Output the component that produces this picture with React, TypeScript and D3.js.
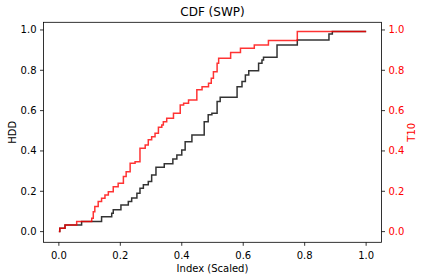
import React from "react";
import * as d3 from "d3";

const hddX = [0, 0.003, 0.02, 0.074, 0.139, 0.172, 0.177, 0.202, 0.226, 0.237, 0.254, 0.264, 0.275, 0.291, 0.302, 0.316, 0.343, 0.371, 0.384, 0.4, 0.411, 0.433, 0.473, 0.486, 0.498, 0.515, 0.525, 0.58, 0.596, 0.607, 0.618, 0.65, 0.661, 0.666, 0.71, 0.776, 0.879, 0.89, 1.0];
const hddY = [0, 0.017, 0.033, 0.05, 0.074, 0.091, 0.108, 0.132, 0.149, 0.167, 0.19, 0.215, 0.232, 0.248, 0.281, 0.319, 0.336, 0.36, 0.38, 0.405, 0.446, 0.479, 0.545, 0.579, 0.587, 0.645, 0.666, 0.719, 0.744, 0.777, 0.798, 0.835, 0.851, 0.865, 0.926, 0.95, 0.98, 0.992, 0.992];

const t10X = [0, 0.003, 0.02, 0.058, 0.107, 0.112, 0.117, 0.128, 0.139, 0.15, 0.161, 0.177, 0.193, 0.21, 0.219, 0.232, 0.248, 0.264, 0.281, 0.291, 0.302, 0.313, 0.324, 0.335, 0.34, 0.351, 0.373, 0.395, 0.406, 0.422, 0.449, 0.466, 0.487, 0.496, 0.503, 0.515, 0.52, 0.559, 0.591, 0.636, 0.682, 0.776, 1.0];
const t10Y = [0, 0.017, 0.033, 0.05, 0.066, 0.099, 0.124, 0.149, 0.166, 0.182, 0.198, 0.223, 0.24, 0.273, 0.297, 0.339, 0.347, 0.413, 0.43, 0.455, 0.471, 0.488, 0.517, 0.529, 0.545, 0.562, 0.587, 0.628, 0.637, 0.653, 0.703, 0.719, 0.736, 0.761, 0.793, 0.835, 0.86, 0.888, 0.909, 0.926, 0.948, 0.992, 0.992];

const xTicks = [0, 0.2, 0.4, 0.6, 0.8, 1.0];
const yTicks = [0, 0.2, 0.4, 0.6, 0.8, 1.0];

const title = "CDF (SWP)";
const xLabel = "Index (Scaled)";
const leftLabel = "HDD";
const rightLabel = "T10";

export default function App() {
  const L = 43.5, R = 381.5, T = 22.3, B = 242.3;
  const x = d3.scaleLinear().domain([-0.05, 1.05]).range([L, R]);
  const y = d3.scaleLinear().domain([-0.053, 1.038]).range([B, T]);
  const line = d3
    .line<[number, number]>()
    .x((d) => x(d[0]))
    .y((d) => y(d[1]))
    .curve(d3.curveStepAfter);
  const hdd = hddX.map((v, i) => [v, hddY[i]] as [number, number]);
  const t10 = t10X.map((v, i) => [v, t10Y[i]] as [number, number]);
  const font = "DejaVu Sans, sans-serif";
  const fmt = d3.format(".1f");
  return (
    <svg
      width={424}
      height={280}
      style={{ position: "absolute", left: 0, top: 0, background: "#fff" }}
      fontFamily={font}
    >
      <rect x={0} y={0} width={424} height={280} fill="#fff" />
      <path d={line(hdd) || ""} fill="none" stroke="#000" strokeOpacity={0.8} strokeWidth={1.5} />
      <path d={line(t10) || ""} fill="none" stroke="#ff0000" strokeOpacity={0.8} strokeWidth={1.5} />
      <rect x={L} y={T} width={R - L} height={B - T} fill="none" stroke="#000" strokeWidth={0.8} />
      {xTicks.map((t) => (
        <g key={"x" + t}>
          <line x1={x(t)} x2={x(t)} y1={B} y2={B + 3.5} stroke="#000" strokeWidth={0.8} />
          <text x={x(t)} y={258.5} fontSize={10} textAnchor="middle" fill="#000">
            {fmt(t)}
          </text>
        </g>
      ))}
      {yTicks.map((t) => (
        <g key={"y" + t}>
          <line x1={L - 3.5} x2={L} y1={y(t)} y2={y(t)} stroke="#000" strokeWidth={0.8} />
          <text x={L - 7} y={y(t)} dy="0.35em" fontSize={10} textAnchor="end" fill="#000">
            {fmt(t)}
          </text>
          <line x1={R} x2={R + 3.5} y1={y(t)} y2={y(t)} stroke="#000" strokeWidth={0.8} />
          <text x={R + 7} y={y(t)} dy="0.35em" fontSize={10} textAnchor="start" fill="#ff0000">
            {fmt(t)}
          </text>
        </g>
      ))}
      <text x={(L + R) / 2} y={16} fontSize={12} textAnchor="middle" fill="#000">
        {title}
      </text>
      <text x={(L + R) / 2} y={272} fontSize={10} textAnchor="middle" fill="#000">
        {xLabel}
      </text>
      <text
        transform={`translate(15.5, ${(T + B) / 2}) rotate(-90)`}
        fontSize={10}
        textAnchor="middle"
        fill="#000"
      >
        {leftLabel}
      </text>
      <text
        transform={`translate(414.5, ${(T + B) / 2}) rotate(-90)`}
        fontSize={10}
        textAnchor="middle"
        fill="#ff0000"
      >
        {rightLabel}
      </text>
    </svg>
  );
}
